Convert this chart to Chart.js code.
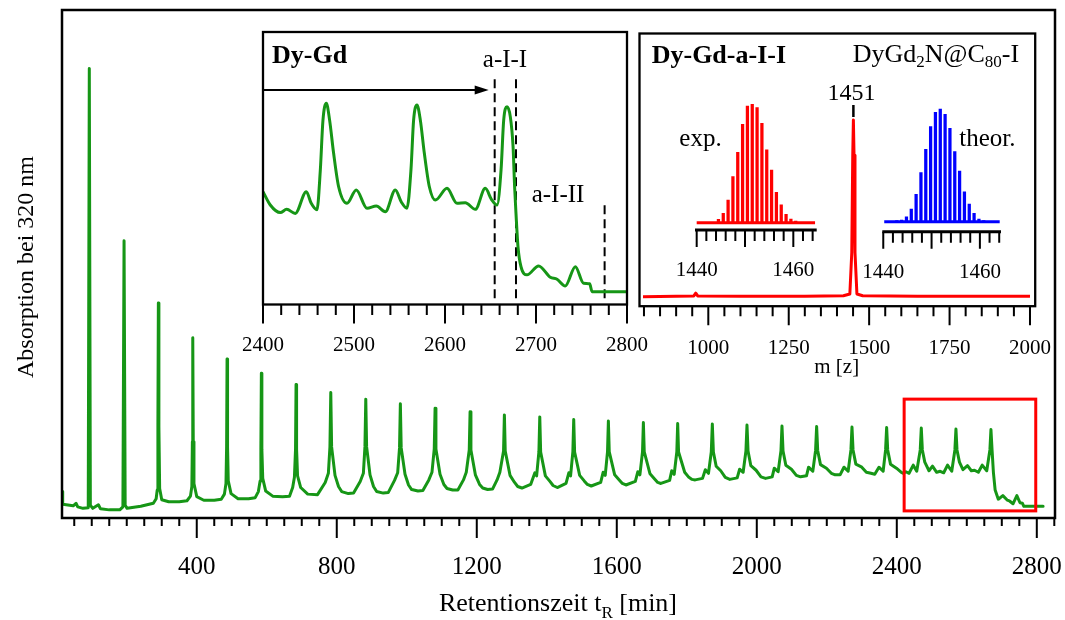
<!DOCTYPE html>
<html>
<head>
<meta charset="utf-8">
<script src="https://cdn.jsdelivr.net/npm/chart.js@4.4.1/dist/chart.umd.min.js"></script>
<style>
html,body{margin:0;padding:0;background:#ffffff;}
#wrap{position:relative;width:1065px;height:620px;overflow:hidden;background:#ffffff;}
#wrap canvas{position:absolute;display:block;}
</style>
</head>
<body>
<div id="wrap">
  <canvas id="cMain" width="1065" height="620" style="left:0px;top:0px;"></canvas>
  <canvas id="cZoom" width="440" height="345" style="left:225px;top:20px;"></canvas>
  <canvas id="cMS" width="450" height="360" style="left:610px;top:20px;"></canvas>
  <canvas id="cExp" width="180" height="200" style="left:665px;top:85px;"></canvas>
  <canvas id="cTheo" width="180" height="200" style="left:850px;top:85px;"></canvas>
</div>
<script>
// ---------------- data ----------------
const mainTime = [
  15,17,47,55,60,75,90,93,96,103,119,125,150,180,189,192.3,195.5,201,240,276,
  284,287,289,290.3,291.8,294,300,320,350,
  372,382,386,387.5,388.6,390,392,400,420,450,
  470,479,483.5,485.3,486.6,488,490,498,518,548,
  567,576,581,583.2,584.6,586,588.5,597,617,645,
  665,674,679,682.2,683.7,685.2,688,697,717,745,
  767,776,780.5,782.9,785.3,795,805,814,833,
  848,867,876,880.5,882.9,885.3,895,905,914,933,
  947,965,974,979.3,981.7,984.1,995,1005,1014,1032,
  1046,1063,1072,1078.5,1080.9,1083.3,1095,1106,1115,1131,
  1146,1162,1170,1178.5,1180.9,1183.3,1196,1208,1217,1231,
  1245,1258,1266,1276.5,1278.9,1281.3,1295,1308,1317,1329,
  1354,1366,1371,1377.5,1380,1382.5,1396,1409,1418,1430,
  1455,1463,1468,1474.5,1477,1479.5,1494,1507,1516,1527,
  1554,1561,1567,1573.5,1576,1578.5,1594,1607,1616,1626,
  1653,1660,1666,1673.5,1676,1678.5,1695,1708,1717,1726,
  1751,1757,1764,1771.5,1774,1776.5,1794,1806,1815,1824,
  1845,1853,1862,1870,1873,1876,1884,1897,1910,1923,
  1944,1951,1961,1969,1972,1975,1983,1998,2012,2025,
  2044,2050,2061,2069,2072,2075,2083,2099,2113,2125,
  2142,2148,2160,2168,2171,2174,2182,2199,2213,2224,
  2238,2249,2261,2269,2272,2275,2283,2300,2313,2326,
  2337,2349,2361,2368,2371,2374,2382,2399,2413,2419,2426,2435,
  2447,2457,2467,2470,2473,2480,2492,2502,2514,2524,2534,
  2545,2557,2566,2569,2572,2579,2589,2602,2613,2622,2633,
  2644,2657,2666,2669,2672,2676,2681,2690,2703,2716,2723,2732,2743,2752,2759,2763,2818
];
const mainAbs = [
  5.2,2.7,2.4,2.9,2.2,1.9,2.0,88.5,2.5,1.9,2.6,1.8,1.6,1.6,2.2,54.6,2.5,1.9,2.3,2.9,
  3.8,5.5,18,42.3,18,5.8,3.6,3.2,3.2,
  3.4,4.3,6.2,15,35.5,15,6.8,4.2,3.5,3.5,
  3.7,4.7,6.8,14,31.3,14,7.3,4.8,3.8,3.8,
  4.0,5.2,7.3,13.5,28.5,13.5,7.8,5.3,4.3,4.2,
  4.3,6.0,8.0,13.5,26.3,13.5,8.3,6.0,4.7,4.6,
  7.0,8.8,14,24.7,14,8.4,6.2,5.2,4.8,
  4.9,7.2,8.8,14,23.4,14,8.5,6.2,5.2,4.9,
  5.0,7.4,8.9,13.8,22.5,13.8,8.6,6.5,5.6,5.3,
  5.4,7.5,9.0,13.6,21.6,13.6,8.6,6.6,5.8,5.5,
  5.5,7.5,9.0,13.4,20.9,13.4,8.5,6.6,5.9,5.6,
  5.7,7.5,9.0,13.2,20.3,13.2,8.4,7.0,6.2,5.9,
  6.6,8.9,8.3,13.0,19.9,13.0,8.3,7.2,6.4,6.0,
  6.8,8.9,8.3,13.0,19.4,13.0,8.4,7.3,6.6,6.3,
  7.0,9.0,8.4,13.0,19.1,13.0,8.5,7.5,6.8,6.5,
  7.2,9.1,8.5,13.0,18.8,13.0,8.7,7.7,7.0,6.8,
  7.4,9.3,8.6,13.0,18.6,13.0,9.0,8.0,7.6,7.5,
  7.8,9.5,8.8,13.0,18.5,13.0,10.2,9.3,8.0,7.6,
  7.9,9.6,9.0,13.2,18.3,13.2,10.3,9.4,8.1,7.8,
  8.1,9.8,9.1,13.2,18.1,13.2,10.4,9.6,8.4,8.1,
  8.3,10.0,9.2,13.3,18.0,13.3,10.5,9.8,8.8,8.5,
  8.5,10.0,9.2,13.4,17.9,13.4,10.6,10.0,9.0,8.8,
  8.6,10.0,9.2,13.4,17.8,13.4,10.6,9.8,9.0,8.8,9.1,8.8,
  10.4,9.2,13.4,17.7,13.4,11.0,9.3,10.2,9.0,9.2,8.9,
  10.4,9.2,13.4,17.5,13.4,11.0,9.5,10.3,9.3,9.4,9.0,
  10.4,9.3,13.4,17.4,13.6,9.0,5.5,3.7,4.4,3.5,3.3,2.8,4.4,3.0,2.9,2.3,2.3
];
const mainTickValues = [400, 800, 1200, 1600, 2000, 2400, 2800];
const boxTimes = [2421, 2797];
const boxAbs = [1.4, 23.4];

const zoomTime = [2400,2408,2419,2426,2435.5,2447.6,2453,2459.3,2463,2465.9,2469.6,2473.2,2477.6,2483.1,2492.3,
  2502.5,2514.3,2524.5,2534.4,2545.4,2552,2558.2,2562.6,2565.5,2569.2,2572.9,2577.3,2582.8,2589.4,
  2602.2,2613.2,2622.3,2633.3,2644.3,2651,2657.2,2661.6,2664.5,2668.2,2671.8,2674.8,2676.5,2678,2680.2,2683.5,
  2690.1,2702.9,2715.7,2723.1,2732.2,2743.2,2752.3,2759,2761.6,2766,2800];
const zoomAbs = [41.3,36.4,33.6,34.8,33.3,41.3,37.0,34.6,49.3,67.6,73.8,67.6,55.4,43.1,37.0,
  41.9,35.2,36.0,33.9,41.9,37.5,35.2,49.3,67.6,73.2,67.6,55.4,43.1,38.2,
  42.5,37.0,37.2,34.8,42.5,38.5,36.4,49.3,67.6,72.5,68.8,57.8,43.1,33.3,21.1,13.7,
  10.7,14.0,9.8,9.1,6.6,13.7,7.6,7.4,4.5,4.5,4.5];
const zoomTickValues = [2400, 2500, 2600, 2700, 2800];
const cutTimes = [2654.6, 2678, 2775.4];
const cutTops = [83, 83, 37.2];
const cutBottoms = [2.1, 2.1, 2.1];
const arrowTimes = [2400, 2648];
const arrowAbs = [78.7, 78.7];

const msMass = [797,900,955,961,967,1100,1300,1420,1440,1446,1449,1451,1453,1456,1462,1480,1650,1850,2000];
const msInt  = [0.0,0.3,0.4,2.0,0.4,0.2,0.3,0.5,1.5,25,80,100,80,25,1.5,0.5,0.2,0.3,0.2];
const msTickValues = [1000, 1250, 1500, 1750, 2000];
const msPeakLabel = [1451];

const expMass = [1444.5,1445.5,1446.5,1447.5,1448.5,1449.5,1450.5,1451.5,1452.5,1453.5,1454.5,1455.5,1456.5,1457.5,1458.5,1459.5,1460.5];
const expInt  = [2.8,7.9,19.2,38.9,59.4,83.1,98.6,100,97.2,83.9,61.5,44.5,25.6,15.0,7.0,3.1,1.4];
const theoMass = [1442.8,1443.8,1444.8,1445.8,1446.8,1447.8,1448.8,1449.8,1450.8,1451.8,1452.8,1453.8,1454.8,1455.8,1456.8,1457.8,1458.8,1459.8,1460.8];
const theoInt  = [0.9,1.5,4.4,11.3,24.3,43.5,64.2,84.3,97.0,100,95.2,82.8,62.1,45.0,26.6,15.7,7.4,2.4,0.9];
const isoTickValues = [1440, 1460];
const expBaseMass = [1440, 1464.5];
const theoBaseMass = [1440.2, 1464.1];
const isoBaseInt = [0, 0];

// ---------------- helpers ----------------
const SERIF = "'Liberation Serif', 'Times New Roman', Times, serif";
const GREEN = 'rgb(22,150,22)', RED = 'rgb(255,0,0)', BLUE = 'rgb(0,0,255)';
const pts = (xs, ys) => xs.map((x, i) => ({x: x, y: ys[i]}));
const F = (size, bold) => (bold ? 'bold ' : '') + size + 'px ' + SERIF;
Chart.defaults.font.family = SERIF;
Chart.defaults.color = '#000';

function drawAxisTicks(ctx, chart, o) {
  const a = chart.chartArea, sx = chart.scales.x;
  ctx.save();
  ctx.strokeStyle = '#000';
  ctx.lineWidth = o.tickWidth;
  ctx.beginPath();
  const n0 = Math.ceil((sx.min - 1e-9) / o.minor), n1 = Math.floor((sx.max + 1e-9) / o.minor);
  for (let n = n0; n <= n1; n++) {
    const v = n * o.minor;
    const major = Math.abs(v / o.major - Math.round(v / o.major)) < 1e-6;
    const px = sx.getPixelForValue(v);
    ctx.moveTo(px, a.bottom);
    ctx.lineTo(px, a.bottom + (major ? o.majorLen : o.minorLen));
  }
  ctx.stroke();
  ctx.lineWidth = o.frameWidth;
  if (o.box) {
    ctx.strokeRect(a.left, a.top, a.right - a.left, a.bottom - a.top);
  } else {
    ctx.beginPath(); ctx.moveTo(a.left, a.bottom); ctx.lineTo(a.right, a.bottom); ctx.stroke();
  }
  ctx.restore();
}
function rich(ctx, x, y, segs, align) {
  ctx.save();
  ctx.fillStyle = '#000'; ctx.textBaseline = 'alphabetic'; ctx.textAlign = 'left';
  let w = 0;
  for (const s of segs) { ctx.font = s.font; w += ctx.measureText(s.text).width; }
  let cx = align === 'center' ? x - w / 2 : (align === 'right' ? x - w : x);
  for (const s of segs) { ctx.font = s.font; ctx.fillText(s.text, cx, y + (s.dy || 0)); cx += ctx.measureText(s.text).width; }
  ctx.restore();
}
function xAxis(min, max, tickValues, height, fontSize, pad) {
  return {
    type: 'linear', min: min, max: max, offset: false,
    grid: {display: false, drawTicks: false}, border: {display: false},
    afterBuildTicks: s => { s.ticks = tickValues.map(v => ({value: v})); },
    afterFit: s => { s.height = height; s.paddingLeft = 0; s.paddingRight = 0; },
    ticks: {autoSkip: false, maxRotation: 0, minRotation: 0, padding: pad, color: '#000',
            font: {family: SERIF, size: fontSize}, callback: v => String(v)}
  };
}
const baseOpts = {responsive: false, animation: false, events: [],
  plugins: {legend: {display: false}, tooltip: {enabled: false}}};

// ---------------- main chromatogram ----------------
new Chart(document.getElementById('cMain'), {
  type: 'line',
  data: {datasets: [{data: pts(mainTime, mainAbs), borderColor: GREEN, borderWidth: 3, pointRadius: 0,
    tension: 0, fill: false, borderJoinStyle: 'round', borderCapStyle: 'round'}]},
  options: Object.assign({}, baseOpts, {
    layout: {padding: {left: 62, top: 10, right: 10, bottom: 0}},
    scales: {x: xAxis(15, 2852, mainTickValues, 102, 25, 34), y: {display: false, min: 0, max: 100}}
  }),
  plugins: [{id: 'mainDeco', afterDraw(chart) {
    const ctx = chart.ctx, sx = chart.scales.x, sy = chart.scales.y;
    drawAxisTicks(ctx, chart, {minor: 50, major: 400, minorLen: 8, majorLen: 20, tickWidth: 2, frameWidth: 2.5, box: true});
    ctx.save(); ctx.strokeStyle = RED; ctx.lineWidth = 3;
    const bx0 = sx.getPixelForValue(boxTimes[0]), bx1 = sx.getPixelForValue(boxTimes[1]);
    const by0 = sy.getPixelForValue(boxAbs[1]), by1 = sy.getPixelForValue(boxAbs[0]);
    ctx.strokeRect(bx0, by0, bx1 - bx0, by1 - by0);
    ctx.restore();
    rich(ctx, 558, 611, [{text: 'Retentionszeit t', font: F(26)}, {text: 'R', font: F(17), dy: 6.5}, {text: ' [min]', font: F(26)}], 'center');
    ctx.save(); ctx.translate(33, 267); ctx.rotate(-Math.PI / 2);
    rich(ctx, 0, 0, [{text: 'Absorption bei 320 nm', font: F(24)}], 'center');
    ctx.restore();
  }}]
});

// ---------------- inset 1: zoomed chromatogram ----------------
const ZO = [225, 20];
new Chart(document.getElementById('cZoom'), {
  type: 'line',
  data: {datasets: [
    {data: pts(zoomTime, zoomAbs), borderColor: GREEN, borderWidth: 3, pointRadius: 0, cubicInterpolationMode: 'monotone', fill: false},
    ...cutTimes.map((t, i) => ({data: [{x: t, y: cutBottoms[i]}, {x: t, y: cutTops[i]}], borderColor: '#000', borderWidth: 2,
      borderDash: [9, 5], pointRadius: 0, fill: false}))
  ]},
  options: Object.assign({}, baseOpts, {
    layout: {padding: {left: 38, top: 12, right: 38, bottom: 0}},
    scales: {x: xAxis(2400, 2800, zoomTickValues, 60.5, 21, 28), y: {display: false, min: -0.2, max: 100}}
  }),
  plugins: [{id: 'zoomDeco', afterDraw(chart) {
    const ctx = chart.ctx, sx = chart.scales.x, sy = chart.scales.y;
    drawAxisTicks(ctx, chart, {minor: 20, major: 100, minorLen: 10.5, majorLen: 19, tickWidth: 2, frameWidth: 2.3, box: true});
    const y = sy.getPixelForValue(arrowAbs[0]);
    const x0 = sx.getPixelForValue(arrowTimes[0]), x1 = sx.getPixelForValue(arrowTimes[1]);
    ctx.save(); ctx.strokeStyle = '#000'; ctx.fillStyle = '#000'; ctx.lineWidth = 2;
    ctx.beginPath(); ctx.moveTo(x0, y); ctx.lineTo(x1 - 8, y); ctx.stroke();
    ctx.beginPath(); ctx.moveTo(x1, y); ctx.lineTo(x1 - 14, y - 4.5); ctx.lineTo(x1 - 14, y + 4.5); ctx.closePath(); ctx.fill();
    ctx.restore();
    rich(ctx, 272 - ZO[0], 63.3 - ZO[1], [{text: 'Dy-Gd', font: F(26, true)}], 'left');
    rich(ctx, 505 - ZO[0], 66.7 - ZO[1], [{text: 'a-I-I', font: F(25)}], 'center');
    rich(ctx, 558 - ZO[0], 201.7 - ZO[1], [{text: 'a-I-II', font: F(25)}], 'center');
  }}]
});

// ---------------- inset 2: mass spectrum ----------------
const MO = [610, 20];
new Chart(document.getElementById('cMS'), {
  type: 'line',
  data: {datasets: [{data: pts(msMass, msInt), borderColor: RED, borderWidth: 3, pointRadius: 0, tension: 0, fill: false, borderJoinStyle: 'round'}]},
  options: Object.assign({}, baseOpts, {
    layout: {padding: {left: 29.5, top: 13.5, right: 24.8, bottom: 0}},
    scales: {x: xAxis(786.1, 2016.2, msTickValues, 73.8, 21, 29.5), y: {display: false, min: -5.4, max: 149}}
  }),
  plugins: [{id: 'msDeco', afterDraw(chart) {
    const ctx = chart.ctx, sx = chart.scales.x;
    drawAxisTicks(ctx, chart, {minor: 50, major: 250, minorLen: 10, majorLen: 19, tickWidth: 2, frameWidth: 2.3, box: true});
    rich(ctx, 651.7 - MO[0], 63.3 - MO[1], [{text: 'Dy-Gd-a-I-I', font: F(26, true)}], 'left');
    rich(ctx, 852.7 - MO[0], 61.7 - MO[1], [{text: 'DyGd', font: F(26)}, {text: '2', font: F(17), dy: 5},
      {text: 'N@C', font: F(26)}, {text: '80', font: F(17), dy: 5}, {text: '-I', font: F(26)}], 'left');
    const px = sx.getPixelForValue(msPeakLabel[0]);
    rich(ctx, px - 2, 100 - MO[1], [{text: String(msPeakLabel[0]), font: F(24)}], 'center');
    ctx.save(); ctx.strokeStyle = '#000'; ctx.lineWidth = 2.5;
    ctx.beginPath(); ctx.moveTo(px, 105 - MO[1]); ctx.lineTo(px, 117 - MO[1]); ctx.stroke(); ctx.restore();
    rich(ctx, 679.3 - MO[0], 146 - MO[1], [{text: 'exp.', font: F(25)}], 'left');
    rich(ctx, 959.3 - MO[0], 146 - MO[1], [{text: 'theor.', font: F(25)}], 'left');
    rich(ctx, 836.7 - MO[0], 373 - MO[1], [{text: 'm [z]', font: F(21)}], 'center');
  }}]
});

// ---------------- isotope patterns ----------------
function isoChart(id, mass, inten, baseMass, color, xmin, xmax, ymin, ymax, pad, axisH, labelPad) {
  new Chart(document.getElementById(id), {
    type: 'bar',
    data: {datasets: [
      {type: 'line', data: pts(baseMass, isoBaseInt), borderColor: color, borderWidth: 3, pointRadius: 0, fill: false},
      {type: 'bar', data: pts(mass, inten), backgroundColor: color, borderWidth: 0, barThickness: 2.6}
    ]},
    options: Object.assign({}, baseOpts, {
      layout: {padding: pad},
      scales: {x: xAxis(xmin, xmax, isoTickValues, axisH, 21, labelPad), y: {display: false, min: ymin, max: ymax}}
    }),
    plugins: [{id: id + 'Deco', afterDraw(chart) {
      drawAxisTicks(chart.ctx, chart, {minor: 2, major: 10, minorLen: 11, majorLen: 17, tickWidth: 2, frameWidth: 3, box: false});
    }}]
  });
}
isoChart('cExp', expMass, expInt, expBaseMass, RED, 1439.65, 1464.84, -6.17, 107.9,
  {left: 30, top: 10, right: 28.3, bottom: 0}, 55, 27.7);
isoChart('cTheo', theoMass, theoInt, theoBaseMass, BLUE, 1439.8, 1464.37, -8.87, 112.4,
  {left: 32.3, top: 10, right: 29, bottom: 0}, 53.3, 27.7);
</script>
</body>
</html>
